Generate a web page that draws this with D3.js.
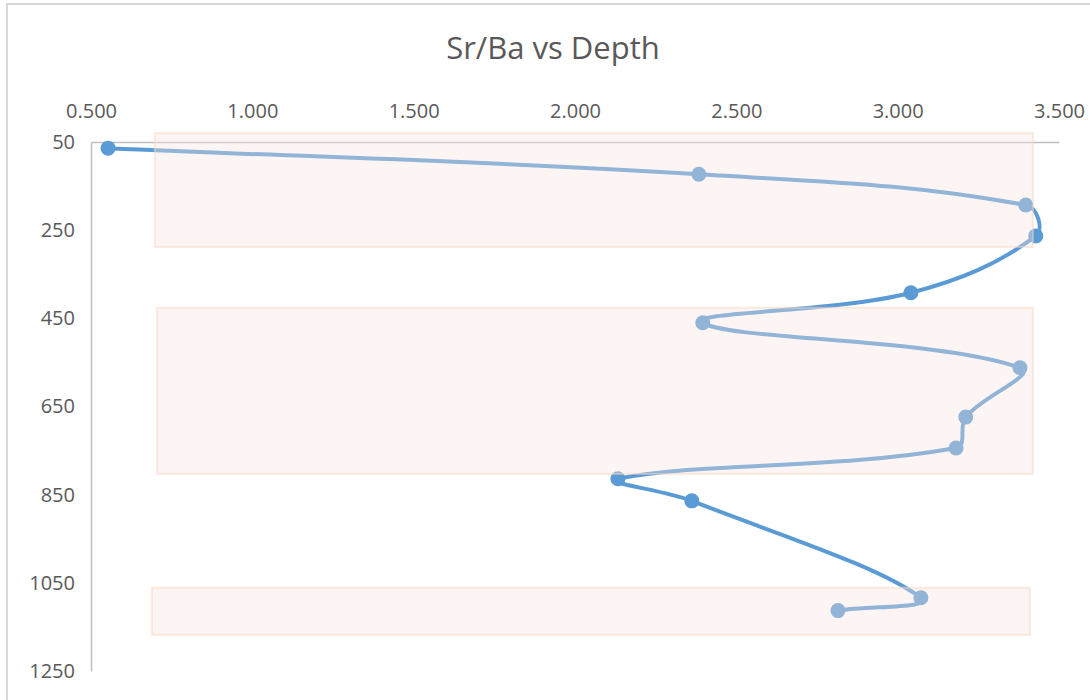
<!DOCTYPE html>
<html>
<head>
<meta charset="utf-8">
<script src="https://cdn.jsdelivr.net/npm/d3@7"></script>
<style>
  html, body { margin: 0; padding: 0; background: #fff; }
  svg { display: block; }
  text { font-family: "Open Sans", Lato, sans-serif; fill: #595959; }
</style>
</head>
<body>
<svg id="chart" width="1090" height="700"></svg>
<script>
// ---- data ----
const srBa  = [0.553, 2.384, 3.397, 3.428, 3.041, 2.396, 3.379, 3.211, 3.181, 2.133, 2.362, 3.072, 2.815];
const depth = [64, 123, 193, 263, 392, 460, 562, 674, 744, 814, 864, 1084, 1113];
const xTicks = [0.5, 1.0, 1.5, 2.0, 2.5, 3.0, 3.5];
const yTicks = [50, 250, 450, 650, 850, 1050, 1250];
// shaded zones
const bandX0 = [0.698, 0.705, 0.689];
const bandX1 = [3.419, 3.419, 3.410];
const bandTop = [30, 426, 1061];
const bandBottom = [288, 803, 1168];
const title = "Sr/Ba vs Depth";

// ---- layout ----
const svg = d3.select("#chart");
const x = d3.scaleLinear().domain([0.5, 3.5]).range([91, 1059]);
const y = d3.scaleLinear().domain([50, 1250]).range([142, 671]);

// outer frame
svg.append("path")
  .attr("d", "M7,700 V4 H1090")
  .attr("fill", "none").attr("stroke", "#d9d9d9").attr("stroke-width", 2);

// title
svg.append("text")
  .attr("x", 553).attr("y", 59)
  .attr("text-anchor", "middle")
  .style("font-size", "31px")
  .text(title);

// x axis (top)
const xAxis = svg.append("g").attr("transform", "translate(0,142)")
  .call(d3.axisTop(x).tickValues(xTicks).tickFormat(d3.format(".3f")).tickSize(0).tickPadding(24));
xAxis.select(".domain").attr("stroke", "#bfbfbf").attr("stroke-width", 1.5);
xAxis.selectAll("text").style("font-size", "20px").attr("fill", "#595959").style("font-family", "'Open Sans', sans-serif");

// y axis (left)
const yAxis = svg.append("g").attr("transform", "translate(91,0)")
  .call(d3.axisLeft(y).tickValues(yTicks).tickFormat(d3.format("d")).tickSize(0).tickPadding(16));
yAxis.select(".domain").attr("stroke", "#bfbfbf").attr("stroke-width", 1.5);
yAxis.selectAll("text").style("font-size", "20px").attr("fill", "#595959").style("font-family", "'Open Sans', sans-serif");

// series line: spreadsheet-style smoothing (Bezier, tangents weighted by segment length)
const pts = srBa.map((v, i) => [v, depth[i]]);
function smoothPath(data) {
  const P = data.map(d => [x(d[0]), y(d[1])]);
  const n = P.length;
  const dist = (a, b) => Math.hypot(a[0] - b[0], a[1] - b[1]);
  const T = P.map((pt, i) => {
    const prev = P[Math.max(i - 1, 0)], next = P[Math.min(i + 1, n - 1)];
    return [next[0] - prev[0], next[1] - prev[1]];
  });
  const p = d3.path();
  p.moveTo(P[0][0], P[0][1]);
  for (let i = 0; i < n - 1; i++) {
    const a = P[i], b = P[i + 1], L = dist(a, b);
    const la = dist(P[Math.max(i - 1, 0)], a);
    const lb = dist(b, P[Math.min(i + 2, n - 1)]);
    const fa = L / (la + L) / 2.6, fb = L / (L + lb) / 2.6;
    p.bezierCurveTo(a[0] + T[i][0] * fa, a[1] + T[i][1] * fa,
                    b[0] - T[i + 1][0] * fb, b[1] - T[i + 1][1] * fb,
                    b[0], b[1]);
  }
  return p.toString();
}
svg.append("path")
  .attr("d", smoothPath(pts))
  .attr("fill", "none").attr("stroke", "#5b9bd5").attr("stroke-width", 4);

svg.selectAll("circle.pt").data(pts).join("circle")
  .attr("class", "pt")
  .attr("cx", d => x(d[0])).attr("cy", d => y(d[1]))
  .attr("r", 7.5).attr("fill", "#5b9bd5");

// translucent zone overlays
svg.selectAll("rect.band").data(bandTop.map((t, i) => i)).join("rect")
  .attr("class", "band")
  .attr("x", i => x(bandX0[i])).attr("width", i => x(bandX1[i]) - x(bandX0[i]))
  .attr("y", i => y(bandTop[i])).attr("height", i => y(bandBottom[i]) - y(bandTop[i]))
  .attr("fill", "rgb(249,226,220)").attr("fill-opacity", 0.35)
  .attr("stroke", "rgb(248,215,195)").attr("stroke-opacity", 0.5).attr("stroke-width", 2);
</script>
</body>
</html>
